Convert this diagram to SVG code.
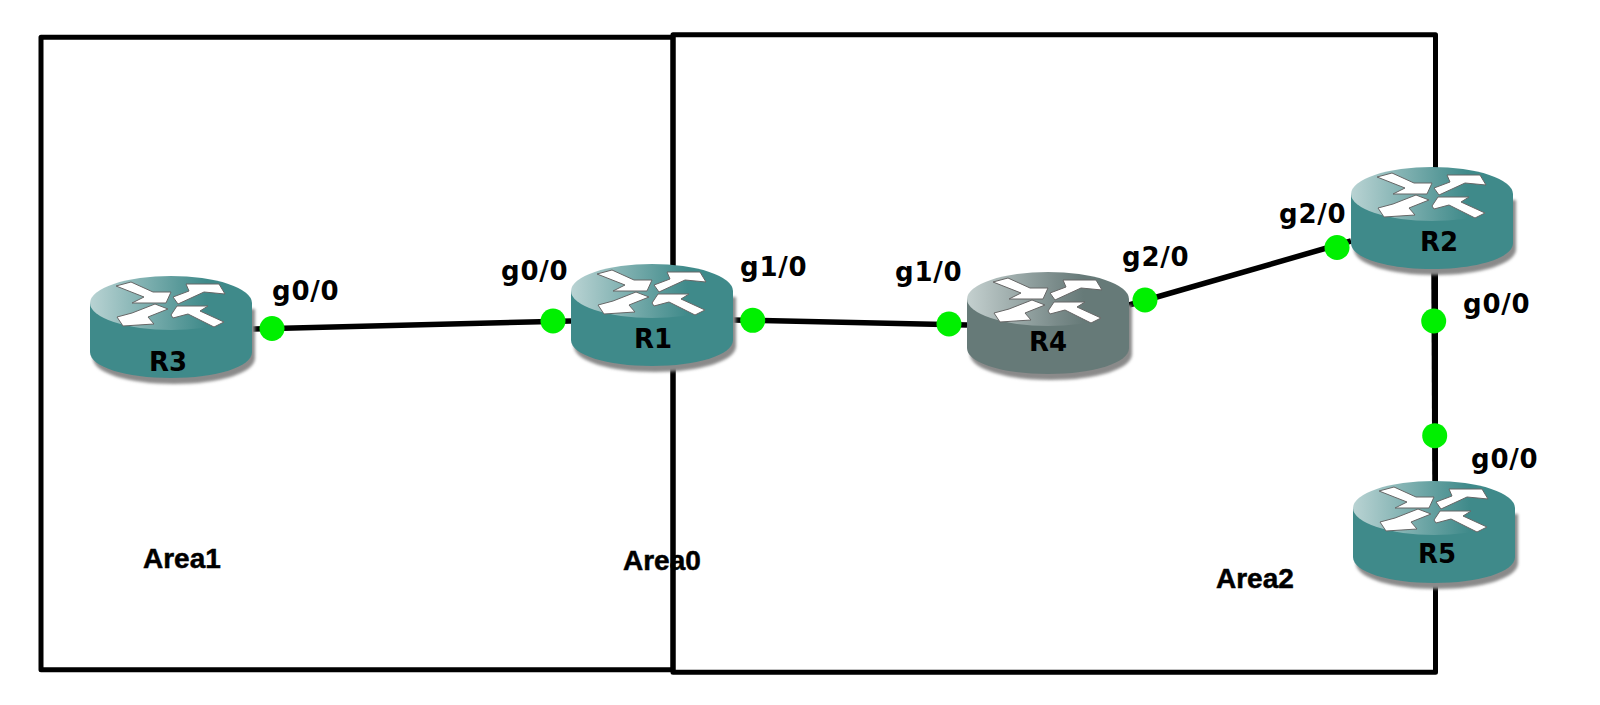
<svg xmlns="http://www.w3.org/2000/svg" width="1600" height="705" viewBox="0 0 1600 705">
<style>
.frame{fill:none;stroke:#000;stroke-width:5;stroke-linejoin:round}
.link{stroke:#000;stroke-width:5.5;fill:none}
.dot{fill:#00f000}
.port{font:bold 26px "DejaVu Sans",sans-serif;letter-spacing:.8px;fill:#000}
.name{font:bold 26px "DejaVu Sans",sans-serif;fill:#000;text-anchor:middle}
.area{font:bold 28px "Liberation Sans",Arial,sans-serif;fill:#000;stroke:#000;stroke-width:.5}
.body-teal{fill:#3f8a8a}.body-gray{fill:#667a78}
.glyph{fill:#fff;stroke:#666;stroke-width:1}
</style>
<defs>
<linearGradient id="topTeal" x1="0" y1="0" x2="1" y2="0">
<stop offset="0" stop-color="#b9d3d3"/><stop offset=".55" stop-color="#5a9a9a"/><stop offset=".72" stop-color="#3f8a8a"/><stop offset="1" stop-color="#3f8a8a"/>
</linearGradient>
<linearGradient id="topGray" x1="0" y1="0" x2="1" y2="0">
<stop offset="0" stop-color="#c4d0cf"/><stop offset=".55" stop-color="#7a8b8a"/><stop offset=".72" stop-color="#667a78"/><stop offset="1" stop-color="#667a78"/>
</linearGradient>
<filter id="soft" x="-10%" y="-10%" width="120%" height="120%"><feGaussianBlur stdDeviation="1.4"/></filter>
<filter id="crisp" x="-5%" y="-5%" width="110%" height="110%"><feGaussianBlur stdDeviation=".35"/></filter>
<path id="shell" d="M0,27V76C0,91 36,102 81,102S162,91 162,76V27Z"/>
<g id="arrows" class="glyph" filter="url(#crisp)">
<polygon points="26,10 41,6 63,16 81,16 76,27 42,27 54,21"/>
<polygon points="83,21 99,15 96,8 129,8 135,18 114,16 88,28"/>
<polygon points="27,41 42,37 65,28 78,33 58,41 64,48 33,50"/>
<polygon points="81,39 87,30 118,30 110,35 134,46 124,51 98,38 83,42"/>
</g>
<g id="routerTeal">
<use href="#shell" x="3" y="6" fill="#8a8a8a" filter="url(#soft)"/>
<use href="#shell" class="body-teal"/>
<ellipse cx="81" cy="27" rx="81" ry="27" fill="url(#topTeal)"/>
<use href="#arrows"/>
</g>
<g id="routerGray">
<use href="#shell" x="3" y="6" fill="#8a8a8a" filter="url(#soft)"/>
<use href="#shell" class="body-gray"/>
<ellipse cx="81" cy="27" rx="81" ry="27" fill="url(#topGray)"/>
<use href="#arrows"/>
</g>
</defs>
<rect width="1600" height="705" fill="#fff"/>
<g id="areas">
<rect class="frame" x="41" y="37.3" width="632" height="632.5"/>
<rect class="frame" x="673" y="34.7" width="762.5" height="637.5"/>
<text class="area" x="143" y="568">Area1</text>
<text class="area" x="623" y="570">Area0</text>
<text class="area" x="1216" y="588">Area2</text>
</g>
<g id="connectors">
<line class="link" x1="253" y1="329" x2="571" y2="321"/>
<line class="link" x1="733" y1="320" x2="967" y2="325"/>
<line class="link" x1="1129" y1="305" x2="1351" y2="241"/>
<line class="link" x1="1434" y1="270" x2="1435" y2="481"/>
</g>
<g id="R3"><use href="#routerTeal" x="90" y="276"/><text class="name" x="168" y="371">R3</text></g>
<g id="R1"><use href="#routerTeal" x="571" y="264"/><text class="name" x="653" y="348">R1</text></g>
<g id="R4"><use href="#routerGray" x="967" y="272"/><text class="name" x="1048" y="351">R4</text></g>
<g id="R2"><use href="#routerTeal" x="1351" y="167"/><text class="name" x="1439" y="251">R2</text></g>
<g id="R5"><use href="#routerTeal" x="1353" y="481"/><text class="name" x="1437" y="563">R5</text></g>
<g id="ports">
<circle class="dot" cx="272" cy="328.5" r="12.5"/>
<circle class="dot" cx="553" cy="321" r="12.5"/>
<circle class="dot" cx="752.7" cy="320.3" r="12.5"/>
<circle class="dot" cx="949" cy="324" r="12.5"/>
<circle class="dot" cx="1145" cy="300" r="12.5"/>
<circle class="dot" cx="1337" cy="247.5" r="12.5"/>
<circle class="dot" cx="1433.7" cy="321" r="12.5"/>
<circle class="dot" cx="1434.7" cy="435.7" r="12.5"/>
<text class="port" x="272" y="300">g0/0</text>
<text class="port" x="501" y="280">g0/0</text>
<text class="port" x="740" y="276">g1/0</text>
<text class="port" x="895" y="281">g1/0</text>
<text class="port" x="1122" y="266">g2/0</text>
<text class="port" x="1279" y="223">g2/0</text>
<text class="port" x="1463" y="313">g0/0</text>
<text class="port" x="1471" y="468">g0/0</text>
</g>
</svg>
